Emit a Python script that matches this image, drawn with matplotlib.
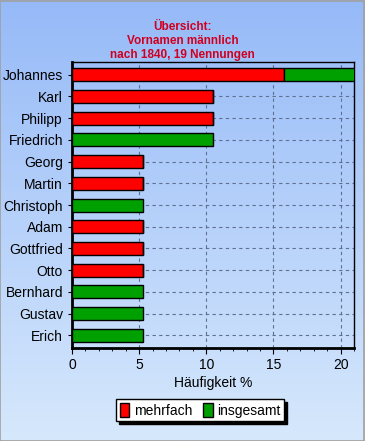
import matplotlib.pyplot as plt
import numpy as np
from matplotlib.ticker import MultipleLocator
from matplotlib.patches import Rectangle

plt.rcParams['font.family'] = ['Liberation Sans', 'DejaVu Sans']

names = ['Johannes', 'Karl', 'Philipp', 'Friedrich', 'Georg', 'Martin', 'Christoph',
         'Adam', 'Gottfried', 'Otto', 'Bernhard', 'Gustav', 'Erich']
mehrfach = [15.79, 10.53, 10.53, 0, 5.26, 5.26, 0, 5.26, 5.26, 5.26, 0, 0, 0]
insgesamt = [5.26, 0, 0, 10.53, 0, 0, 5.26, 0, 0, 0, 5.26, 5.26, 5.26]

fig = plt.figure(figsize=(3.65, 4.41), dpi=100)

# Hintergrund mit Farbverlauf
bg = fig.add_axes([0, 0, 1, 1], zorder=-1)
top = np.array([150, 186, 248]) / 255
bot = np.array([214, 232, 252]) / 255
t = np.linspace(0, 1, 256)[:, None]
grad = (top * (1 - t) + bot * t)[:, None, :]
bg.imshow(grad, aspect='auto', extent=[0, 1, 0, 1])
bg.add_patch(Rectangle((0.001, 0.001), 0.997, 0.997, fill=False, ec='#a0a0a0', lw=1.2))
bg.set_axis_off()

ax = fig.add_axes([0.197, 0.21, 0.773, 0.65])
ax.set_facecolor('none')
y = np.arange(len(names))
ax.barh(y, mehrfach, height=0.6, color='#ff0000', edgecolor='black', linewidth=1, zorder=3)
ax.barh(y, insgesamt, left=mehrfach, height=0.6, color='#00a000', edgecolor='black',
        linewidth=1, zorder=3)
ax.set_yticks(y)
ax.set_yticklabels(names, fontsize=10)
ax.set_ylim(len(names) - 0.4, -0.6)
ax.set_xlim(0, 21)
ax.xaxis.set_major_locator(MultipleLocator(5))
ax.xaxis.set_minor_locator(MultipleLocator(1))
ax.tick_params(axis='x', labelsize=10, length=4, pad=3)
ax.tick_params(axis='x', which='minor', length=2)
ax.tick_params(axis='y', length=3)
ax.grid(True, linestyle=(0, (3, 3)), color='#607090', linewidth=0.8, zorder=0)
ax.spines['left'].set_linewidth(2)
ax.spines['bottom'].set_linewidth(2)
ax.spines['top'].set_linewidth(1)
ax.spines['right'].set_linewidth(1)
ax.set_xlabel('Häufigkeit %', fontsize=10, labelpad=3)

fig.text(0.5, 0.907, 'Übersicht:\nVornamen männlich\nnach 1840, 19 Nennungen',
         ha='center', va='center', color='#d00020', fontsize=8.5, fontweight='bold',
         linespacing=1.25)

h1 = Rectangle((0, 0), 1, 1, fc='#ff0000', ec='black')
h2 = Rectangle((0, 0), 1, 1, fc='#00a000', ec='black')
leg = fig.legend([h1, h2], ['mehrfach', 'insgesamt'], loc='center', ncol=2,
                 bbox_to_anchor=(0.548, 0.07), fontsize=10, fancybox=False,
                 shadow={'color': 'black', 'alpha': 1}, framealpha=1,
                 edgecolor='black', handlelength=0.7,
                 handleheight=1.2, handletextpad=0.3, columnspacing=0.8,
                 borderpad=0.25)

fig.savefig('out.png', dpi=100)
